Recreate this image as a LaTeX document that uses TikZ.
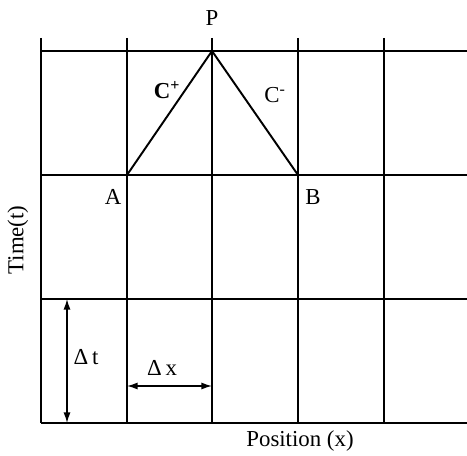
\documentclass[tikz,border=0pt]{standalone}
\usepackage{fontspec}
\setmainfont{Liberation Serif}
\usetikzlibrary{arrows.meta}

\tikzset{
  gridline/.style={line width=0.8pt, black},
  charline/.style={line width=1.1pt, black, line join=miter},
  dimarrow/.style={line width=0.8pt, {Latex[length=6pt,width=4pt]}-{Latex[length=6pt,width=4pt]}},
  lbl/.style={font=\fontsize{13}{15}\selectfont, inner sep=1pt}
}

\begin{document}
\begin{tikzpicture}[x=0.02cm, y=-0.02cm]
    \useasboundingbox (0,0) rectangle (467,456);

    % Vertical grid lines
    \foreach \x in {41,127,212,298,384} {
        \draw[gridline] (\x,38) -- (\x,423);
    }
    % Horizontal grid lines
    \foreach \y in {51,175,299,423} {
        \draw[gridline] (41,\y) -- (467,\y);
    }

    % Grid points of the characteristics
    \coordinate (P) at (212,51);
    \coordinate (A) at (127,175);
    \coordinate (B) at (298,175);

    % Characteristics
    \draw[charline] (A) -- (P) -- (B);

    % Point labels
    \node[lbl] (lblP) at (212,18) {P};
    \node[lbl] (lblA) at (113,197) {A};
    \node[lbl] (lblB) at (313,197) {B};
    \node[lbl] (lblCp) at (167,90) {\textbf{C}\textsuperscript{\textbf{+}}};
    \node[lbl] (lblCm) at (275,95) {C\textsuperscript{-}};

    % Step sizes
    \coordinate (dtTop) at (67,299);
    \coordinate (dtBot) at (67,423);
    \draw[dimarrow] (dtTop) -- (dtBot);
    \node[lbl] (lblDt) at (86,357) {Δ\,t};

    \coordinate (dxL) at (127,386);
    \coordinate (dxR) at (212,386);
    \draw[dimarrow] (dxL) -- (dxR);
    \node[lbl] (lblDx) at (162,368) {Δ\,x};

    % Axis labels
    \node[lbl, rotate=90] (lblTime) at (18,240) {Time(t)};
    \node[lbl] (lblPos) at (300,441) {Position (x)};

\end{tikzpicture}
\end{document}
